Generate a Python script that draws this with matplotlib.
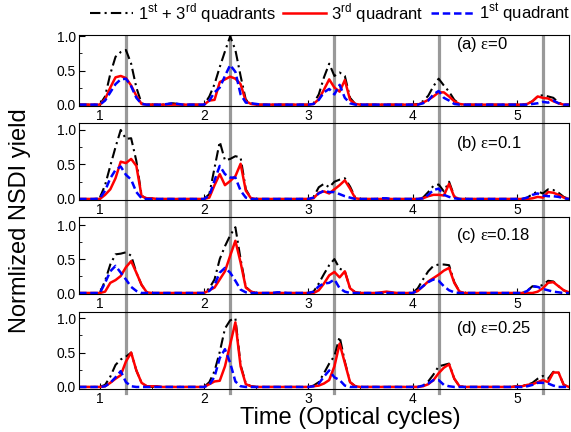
import numpy as np
import matplotlib.pyplot as plt
import matplotlib.transforms as mtransforms
from matplotlib.lines import Line2D
from matplotlib.ticker import MultipleLocator

plt.rcParams['font.family'] = ['Liberation Sans', 'DejaVu Sans']
plt.rcParams['mathtext.fontset'] = 'custom'
plt.rcParams['mathtext.rm'] = 'Liberation Sans'
plt.rcParams['mathtext.sf'] = 'Liberation Serif'

# time grid in optical cycles
t = np.round(np.arange(0.8, 5.5001, 0.05), 2)

# yields per peak: {start time: values on the 0.05 grid}, zero elsewhere
# (a) eps = 0
a_both = {1.0: [0, .12, .45, .7, .77, .8, .6, .25, .02],
          1.65: [.01, .02, .01],
          2.0: [0, .12, .3, .55, .78, 1.0, .8, .42, .07, .02],
          3.05: [.02, .15, .4, .6, .42, .47, .42, .1, .01],
          4.05: [.01, .05, .13, .27, .38, .28, .19, .07, .01],
          5.1: [.01, .05, .12, .14, .12, .1, .03]}
a_third = {1.0: [0, .08, .25, .4, .42, .39, .28, .13, .01],
           2.0: [0, .06, .07, .33, .37, .41, .38, .3, .05, .01],
           3.05: [.01, .08, .22, .37, .25, .19, .36, .07, .01],
           4.1: [.03, .07, .12, .18, .18, .12, .05, .01],
           5.1: [.01, .05, .12, .1, .09, .05, .02]}
a_first = {1.0: [0, .06, .18, .3, .37, .38, .27, .1, .01],
           1.65: [.01, .02, .01],
           2.0: [0, .06, .18, .25, .42, .58, .48, .15, .03, .02, .01],
           3.05: [.01, .07, .18, .23, .15, .29, .1, .02],
           4.1: [.02, .06, .15, .2, .1, .06, .01],
           5.15: [.01, .02, .04, .03, .06, .02]}

# (b) eps = 0.1
b_both = {1.0: [.02, .2, .48, .75, 1.0, .87, .88, .55, .05],
          2.0: [0, .07, .45, .83, .56, .58, .62, .6, .14, .01],
          3.05: [.03, .17, .22, .17, .25, .28, .3, .18, .02],
          4.1: [.02, .1, .19, .21, .11, .25, .04],
          5.1: [.02, .07, .11, .08, .14, .13, .09, .03, 0]}
b_third = {1.0: [0, .06, .14, .3, .54, .52, .58, .48, .04, .01, .01],
           2.05: [.02, .2, .36, .2, .26, .33, .51, .12, .01],
           3.05: [.01, .09, .11, .08, .14, .2, .27, .15, .01],
           4.1: [.01, .04, .06, .06, .05, .22, .03],
           5.15: [.01, .03, .02, .1, .09, .06, .02]}
b_first = {1.0: [.01, .12, .3, .42, .47, .35, .28, .1, .01],
           2.05: [.05, .27, .48, .36, .31, .31, .12, .02],
           3.05: [.02, .08, .12, .1, .1, .07, .04, .02],
           3.7: [.01, .01],
           4.1: [.01, .06, .13, .15, .06, .03, .01],
           5.1: [.02, .06, .08, .05, .04, .04, .03, .01]}

# (c) eps = 0.18
c_both = {1.0: [0, .18, .42, .57, .58, .6, .55, .3, .12, .01],
          2.0: [0, .07, .2, .5, .69, .85, .97, .5, .09, .02],
          3.05: [.02, .14, .28, .41, .5, .36, .32, .07, .01],
          4.05: [.07, .2, .32, .4, .42, .42, .41, .16, .02],
          5.1: [.03, .1, .09, .12, .18, .17, .1, .04]}
c_third = {1.05: [.02, .15, .19, .25, .38, .47, .3, .12, .01],
           2.05: [.04, .08, .2, .32, .55, .77, .45, .08, .02],
           3.1: [.04, .14, .26, .31, .23, .32, .07, .01],
           3.7: [.01, .02, .01],
           4.05: [.03, .1, .17, .22, .27, .33, .37, .15, .02],
           5.2: [.02, .07, .15, .16, .1, .04, .01]}
c_first = {1.0: [0, .15, .32, .4, .3, .2, .09, .03],
           2.05: [.03, .12, .3, .37, .3, .18, .05, .01],
           2.7: [.01, .01],
           3.05: [.02, .1, .14, .15, .2, .07, .02],
           4.05: [.04, .1, .16, .2, .18, .1, .04, .01],
           5.1: [.03, .1, .09, .06, .04, .02, .01]}

# (d) eps = 0.25
d_both = {1.0: [0, .03, .15, .32, .4, .44, .5, .24, .06, .01],
          2.0: [0, .07, .23, .51, .85, .97, 1.0, .32, .05, .01],
          3.05: [.02, .07, .2, .34, .45, .73, .37, .07, .01],
          4.1: [.02, .08, .18, .3, .32, .34, .12, .01],
          5.0: [.01, .02, .03, .06, .12, .16, .12, .22, .21, .03]}
d_third = {1.05: [.01, .06, .12, .17, .37, .5, .24, .06, .01],
           1.5: [.01, .01],
           2.0: [0, .04, .08, .09, .3, .62, .94, .3, .04, .01],
           3.05: [.01, .02, .05, .1, .3, .63, .35, .07, .01],
           4.1: [.01, .04, .1, .2, .28, .33, .12, .01],
           5.0: [.01, .01, .03, .04, .07, .1, .07, .21, .21, .03]}
d_first = {1.05: [.01, .06, .14, .23, .07, .01],
           2.05: [.03, .15, .42, .55, .35, .08, .01],
           3.05: [.01, .05, .15, .24, .14, .1, .02],
           4.1: [.02, .05, .1, .1, .03, .01],
           5.1: [.01, .03, .06, .06, .05, .02]}

tags = ['(a) $\\mathsf{\\varepsilon}$=0', '(b) $\\mathsf{\\varepsilon}$=0.1',
        '(c) $\\mathsf{\\varepsilon}$=0.18', '(d) $\\mathsf{\\varepsilon}$=0.25']
field_peaks = [1.25, 2.25, 3.25, 4.25, 5.25]


def series(peaks):
    y = np.zeros_like(t)
    for t0, vals in peaks.items():
        i = int(np.argmin(np.abs(t - t0)))
        y[i:i + len(vals)] = vals
    return y


panels = [(a_both, a_third, a_first), (b_both, b_third, b_first),
          (c_both, c_third, c_first), (d_both, d_third, d_first)]
# axes boxes [left, bottom, width, height], y limits, tag height
boxes = [[0.1384, 0.7546, 0.858, 0.1644],
         [0.1384, 0.5370, 0.858, 0.1782],
         [0.1384, 0.3194, 0.858, 0.1782],
         [0.1384, 0.0995, 0.858, 0.1782]]
ylims = [(-0.02, 1.02), (-0.015, 1.1), (-0.015, 1.12), (-0.03, 1.09)]
tag_y = [0.87, 0.74, 0.766, 0.79]

fig = plt.figure(figsize=(5.71, 4.32), dpi=100)
axes = []
for k, (both, third, first) in enumerate(panels):
    ax = fig.add_axes(boxes[k])
    ax.set_facecolor('none')
    ax.plot(t, series(both), color='black', lw=1.5, ls=(0, (5, 2, 1, 2)))
    ax.plot(t, series(third), color='#ff0000', lw=1.8)
    ax.plot(t, series(first), color='#0000ff', lw=1.8, ls=(0, (3, 1.5)))
    ax.set_xlim(0.8, 5.5)
    ax.set_ylim(*ylims[k])
    ax.set_xticks([1, 2, 3, 4, 5])
    ax.xaxis.set_minor_locator(MultipleLocator(0.5))
    ax.set_yticks([0, 0.5, 1.0])
    ax.set_yticklabels(['0.0', '0.5', '1.0'])
    ax.yaxis.set_minor_locator(MultipleLocator(0.25))
    ax.tick_params(which='both', direction='in', labelsize=10, pad=2)
    ax.tick_params(which='major', length=4)
    ax.tick_params(which='minor', length=2.5)
    ax.text(4.42, tag_y[k], tags[k], transform=ax.get_xaxis_transform(),
            fontsize=12, va='center', ha='left')
    axes.append(ax)

# vertical marks at the field maxima, running through all panels
trans = mtransforms.blended_transform_factory(axes[-1].transData, fig.transFigure)
for xp in field_peaks:
    fig.add_artist(Line2D([xp, xp], [0.0903, 0.915], transform=trans,
                          color='#999999', lw=2.3, zorder=-1))

handles = [Line2D([], [], color='black', lw=1.5, ls=(0, (5, 2, 1, 2))),
           Line2D([], [], color='#ff0000', lw=1.8),
           Line2D([], [], color='#0000ff', lw=1.8, ls=(0, (3, 1.5)))]
labels = ['1$^{\\mathrm{st}}$ + 3$^{\\mathrm{rd}}$ quadrants',
          '3$^{\\mathrm{rd}}$ quadrant', '1$^{\\mathrm{st}}$ quadrant']
fig.legend(handles, labels, loc='center', bbox_to_anchor=(0.578, 0.97),
           ncol=3, frameon=False, fontsize=12, handlelength=2.6,
           handletextpad=0.3, columnspacing=0.4, borderpad=0)

fig.text(0.035, 0.49, 'Normlized NSDI yield', rotation=90, fontsize=17,
         ha='center', va='center')
fig.text(0.613, 0.032, 'Time (Optical cycles)', fontsize=17,
         ha='center', va='center')

fig.savefig('out.png', dpi=100)
